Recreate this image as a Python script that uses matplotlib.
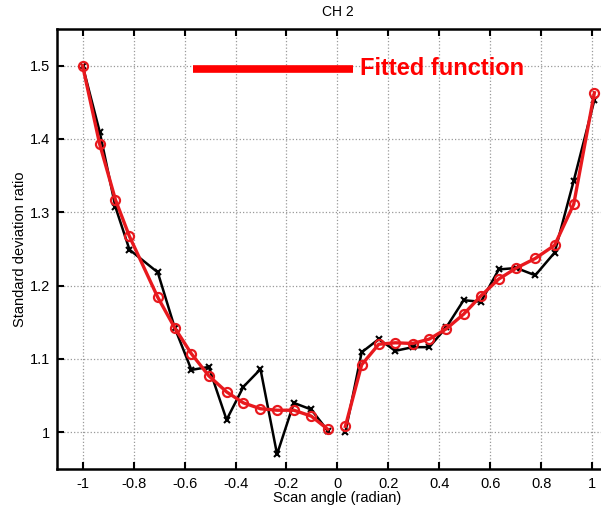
import numpy as np
import matplotlib.pyplot as plt
from matplotlib.lines import Line2D

# angulo de barrido (radianes) y cociente de desviacion estandar, CH 2
angulo = [-1.0, -0.933, -0.871, -0.816, -0.705, -0.638, -0.573, -0.505, -0.435,
          -0.369, -0.302, -0.237, -0.171, -0.103, -0.038, np.nan,
          0.031, 0.095, 0.162, 0.227, 0.295, 0.360, 0.427, 0.495, 0.563,
          0.633, 0.702, 0.776, 0.852, 0.927, 1.008]

medido = [1.500, 1.410, 1.307, 1.249, 1.218, 1.142, 1.085, 1.089, 1.017,
          1.062, 1.086, 0.970, 1.040, 1.031, 1.002, np.nan,
          1.000, 1.109, 1.127, 1.111, 1.116, 1.116, 1.143, 1.180, 1.178,
          1.222, 1.224, 1.214, 1.245, 1.343, 1.453]

ajustado = [1.500, 1.393, 1.317, 1.267, 1.184, 1.142, 1.107, 1.077, 1.055,
            1.040, 1.032, 1.030, 1.030, 1.022, 1.004, np.nan,
            1.008, 1.092, 1.120, 1.122, 1.121, 1.127, 1.141, 1.161, 1.186,
            1.209, 1.224, 1.237, 1.255, 1.311, 1.463]

xticks = [-1, -0.8, -0.6, -0.4, -0.2, 0, 0.2, 0.4, 0.6, 0.8, 1]
xlabels = ['-1', '-0.8', '-0.6', '-0.4', '-0.2', '0', '0.2', '0.4', '0.6', '0.8', '1']
yticks = [1, 1.1, 1.2, 1.3, 1.4, 1.5]
ylabels = ['1', '1.1', '1.2', '1.3', '1.4', '1.5']

rojo = '#e8191e'

plt.rcParams['font.family'] = ['Liberation Sans', 'DejaVu Sans']

fig = plt.figure(figsize=(6.01, 5.08), dpi=100)
ax = fig.add_axes([0.095, 0.077, 0.933, 0.866])

ax.plot(angulo, medido, color='black', linewidth=1.8, marker='x',
        markersize=5, markeredgewidth=1.5, zorder=3)
ax.plot(angulo, ajustado, color=rojo, linewidth=2.4, marker='o',
        markersize=6.5, markerfacecolor='none', markeredgewidth=1.6, zorder=4)

ax.set_xlim(-1.1, 1.1)
ax.set_ylim(0.95, 1.55)
ax.set_xticks(xticks)
ax.set_xticklabels(xlabels)
ax.set_yticks(yticks)
ax.set_yticklabels(ylabels)
ax.tick_params(direction='in', length=5, width=1.5, top=True, right=True,
               labelsize=10.5, colors='black')
ax.tick_params(axis='x', pad=6)
ax.tick_params(axis='y', pad=5)
ax.grid(True, linestyle=':', color='0.6', linewidth=0.9)
for s in ax.spines.values():
    s.set_linewidth(1.8)

ax.set_title('CH 2', fontsize=10, pad=9)
ax.set_xlabel('Scan angle (radian)', fontsize=10.5, labelpad=0)
ax.set_ylabel('Standard deviation ratio', fontsize=10.5, labelpad=2)

# leyenda dibujada a mano
ax.add_line(Line2D([0.243, 0.528], [0.909, 0.909], transform=ax.transAxes,
                   color='red', linewidth=5.5, solid_capstyle='butt', zorder=5))
ax.text(0.541, 0.909, 'Fitted function', transform=ax.transAxes, color='red',
        fontsize=17, fontweight='bold', va='center', ha='left', zorder=5)

fig.savefig('out.png', dpi=100)
